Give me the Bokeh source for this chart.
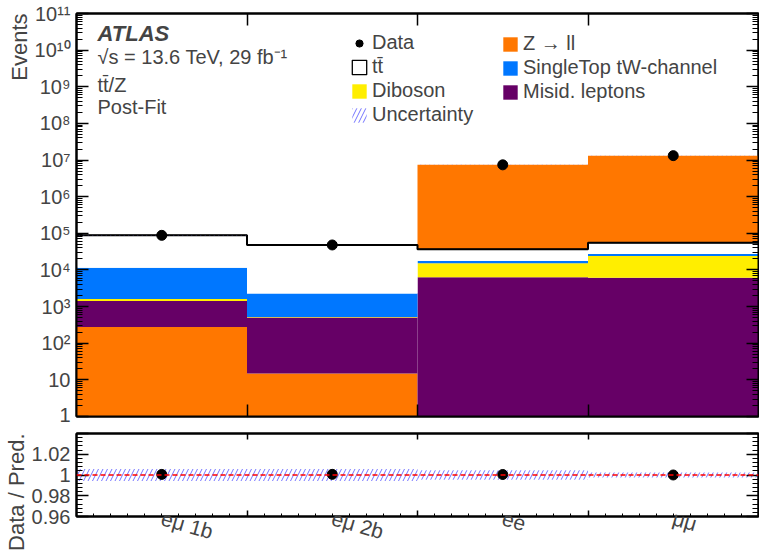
import math
from bokeh.plotting import figure
from bokeh.layouts import column
from bokeh.models import (LinearAxis, LogAxis, FixedTicker, Label, Legend,
                          LegendItem, Span, ColumnDataSource, Title)
from bokeh.embed import file_html
from bokeh.resources import INLINE

# ---- yields per analysis region (post-fit) ----
regions = ["eμ 1b", "eμ 2b", "ee", "μμ"]
z_ll = [277, 15, 7.36e6, 1.314e7]
single_top = [9900, 1740, 2400, 3400]
misid = [1143, 485, 6300, 6150]
diboson = [180, 20, 8900, 17850]
ttbar = [76500, 45800, 18900, 28300]
data = [88050, 48090, 7.40e6, 1.3196e7]
rel_unc = [0.0057, 0.0057, 0.0045, 0.0023]

# stacking order (bottom to top) in the opposite-flavour and same-flavour regions
order_emu = ["Z → ll", "Misid. leptons", "Diboson", "SingleTop tW-channel", "tt̄"]
order_sf = ["Misid. leptons", "Diboson", "SingleTop tW-channel", "tt̄", "Z → ll"]
stack_order = [order_emu, order_emu, order_sf, order_sf]

yields = {"Z → ll": z_ll, "SingleTop tW-channel": single_top,
          "Misid. leptons": misid, "Diboson": diboson, "tt̄": ttbar}
colors = {"Z → ll": "#ff7700", "SingleTop tW-channel": "#0077ff",
          "Misid. leptons": "#660066", "Diboson": "#ffee00", "tt̄": "white"}

FONT = "Liberation Sans"
HATCH = dict(hatch_pattern="/", hatch_color="#7373ff", hatch_scale=9, hatch_weight=1)
n = len(regions)
edges = list(range(n + 1))
centers = [i + 0.5 for i in range(n)]

# cumulative stack boundaries per bin
bottoms = {k: [0.0] * n for k in yields}
tops = {k: [0.0] * n for k in yields}
for i in range(n):
    acc = 1e-3
    for name in stack_order[i]:
        bottoms[name][i] = acc
        acc += yields[name][i]
        tops[name][i] = acc
total = [sum(yields[k][i] for k in yields) for i in range(n)]


def style_axis(ax, ticks=None, size=20):
    """Inward ticks; labels only when a size is wanted, otherwise blank."""
    ax.major_tick_in = 12
    ax.major_tick_out = 0
    ax.minor_tick_in = 6
    ax.minor_tick_out = 0
    ax.axis_line_width = 2
    ax.major_tick_line_width = 1.5
    ax.minor_tick_line_width = 1
    ax.major_label_text_font = FONT
    if ticks is None:
        ax.major_label_text_font_size = f"{size}px"
        ax.major_label_standoff = 6
    else:
        ax.major_label_overrides = {t: "" for t in ticks}
        ax.major_label_text_font_size = "1px"
        ax.major_label_standoff = 0


# ---------------- main panel ----------------
p = figure(width=759, height=425, x_range=(0, 4), y_range=(1, 1e11),
           y_axis_type="log", x_axis_location=None, y_axis_location=None,
           output_backend="svg", toolbar_location=None,
           min_border_left=76, min_border_right=1, min_border_top=13,
           min_border_bottom=9)
p.grid.visible = False
p.outline_line_color = "black"
p.outline_line_width = 2

renderers = {}
for name in ["Z → ll", "Misid. leptons", "Diboson", "SingleTop tW-channel", "tt̄"]:
    src = ColumnDataSource(dict(left=edges[:-1], right=edges[1:],
                                bottom=bottoms[name], top=tops[name]))
    renderers[name] = p.quad(left="left", right="right", bottom="bottom", top="top",
                             source=src, fill_color=colors[name], line_color=None)

# black outline along the top of the tt̄ histogram
tt_top = tops["tt̄"]
p.step(x=edges, y=tt_top + [tt_top[-1]], mode="after", line_color="black", line_width=2)
tt_edge = p.quad(left=edges[:-1], right=edges[1:], bottom=tt_top, top=tt_top,
                 fill_color="white", line_color="black", line_width=1.3)

unc_r = p.quad(left=edges[:-1], right=edges[1:],
               bottom=[t * (1 - u) for t, u in zip(total, rel_unc)],
               top=[t * (1 + u) for t, u in zip(total, rel_unc)],
               fill_color=None, line_color=None, **HATCH)

p.segment(x0=centers, x1=centers, y0=[d - math.sqrt(d) for d in data],
          y1=[d + math.sqrt(d) for d in data], line_color="black", line_width=1.5)
data_r = p.scatter(x=centers, y=data, size=10, color="black")

# axes with inward ticks on all four sides
major_y = [10 ** k for k in range(0, 12)]
minor_y = [m * 10 ** k for k in range(0, 11) for m in range(2, 10)]
sup = str.maketrans("0123456789", "⁰¹²³⁴⁵⁶⁷⁸⁹")
y_labels = {v: ("1" if k == 0 else "10" if k == 1 else "10" + str(k).translate(sup))
            for k, v in enumerate(major_y)}

ax = LogAxis(ticker=FixedTicker(ticks=major_y, minor_ticks=minor_y),
             major_label_overrides=y_labels)
style_axis(ax)
p.add_layout(ax, "left")
ax = LogAxis(ticker=FixedTicker(ticks=major_y, minor_ticks=minor_y))
style_axis(ax, major_y)
p.add_layout(ax, "right")
for side in ["below", "above"]:
    ax = LinearAxis(ticker=FixedTicker(ticks=edges[1:-1], minor_ticks=[]))
    style_axis(ax, edges[1:-1])
    p.add_layout(ax, side)

p.add_layout(Title(text="Events", align="right", standoff=0, text_font=FONT,
                   text_font_size="22px", text_font_style="normal"), "left")

p.add_layout(Label(x=21, y=371, x_units="screen", y_units="screen", text="ATLAS",
                   text_font=FONT, text_font_size="22px", text_font_style="bold italic"))
p.add_layout(Label(x=21, y=349, x_units="screen", y_units="screen",
                   text="√s = 13.6 TeV, 29 fb⁻¹", text_font=FONT, text_font_size="20px"))
p.add_layout(Label(x=21, y=321, x_units="screen", y_units="screen",
                   text="tt̄/Z", text_font=FONT, text_font_size="20px"))
p.add_layout(Label(x=21, y=299, x_units="screen", y_units="screen",
                   text="Post-Fit", text_font=FONT, text_font_size="20px"))

legend_style = dict(border_line_color=None, background_fill_alpha=0, padding=0,
                    margin=0, spacing=1, label_text_font=FONT,
                    label_text_font_size="20px", glyph_width=18, glyph_height=18,
                    label_standoff=4)
leg1 = Legend(items=[LegendItem(label="Data", renderers=[data_r]),
                     LegendItem(label="tt̄", renderers=[tt_edge]),
                     LegendItem(label="Diboson", renderers=[renderers["Diboson"]]),
                     LegendItem(label="Uncertainty", renderers=[unc_r])],
              location=(274, 290), **legend_style)
leg2 = Legend(items=[LegendItem(label="Z → ll", renderers=[renderers["Z → ll"]]),
                     LegendItem(label="SingleTop tW-channel",
                                renderers=[renderers["SingleTop tW-channel"]]),
                     LegendItem(label="Misid. leptons",
                                renderers=[renderers["Misid. leptons"]])],
              location=(425, 313), **legend_style)
p.add_layout(leg1)
p.add_layout(leg2)

# ---------------- ratio panel ----------------
r = figure(width=759, height=132, x_range=p.x_range, y_range=(0.96, 1.04),
           x_axis_location=None, y_axis_location=None,
           output_backend="svg", toolbar_location=None,
           min_border_left=76, min_border_right=1, min_border_top=8,
           min_border_bottom=39)
r.grid.visible = False
r.outline_line_color = "black"
r.outline_line_width = 2

r.quad(left=edges[:-1], right=edges[1:], bottom=[1 - u for u in rel_unc],
       top=[1 + u for u in rel_unc], fill_color=None, line_color=None, **HATCH)
r.add_layout(Span(location=1.0, dimension="width", line_color="red",
                  line_dash="5 3", line_width=1.5))
ratio = [d / t for d, t in zip(data, total)]
r.scatter(x=centers, y=ratio, size=10, color="black")

ratio_ticks = [0.96, 0.98, 1.0, 1.02, 1.04]
ratio_minor = [0.96 + 0.004 * i for i in range(21)]
ratio_labels = {0.96: "0.96", 0.98: "0.98", 1.0: "1", 1.02: "1.02", 1.04: ""}
ax = LinearAxis(ticker=FixedTicker(ticks=ratio_ticks, minor_ticks=ratio_minor),
                major_label_overrides=ratio_labels)
style_axis(ax)
r.add_layout(ax, "left")
ax = LinearAxis(ticker=FixedTicker(ticks=ratio_ticks, minor_ticks=ratio_minor))
style_axis(ax, ratio_ticks)
r.add_layout(ax, "right")

x_minor = [i / 10 for i in range(41)]
ax = LinearAxis(ticker=FixedTicker(ticks=edges[1:-1], minor_ticks=x_minor))
style_axis(ax, edges[1:-1])
ax.major_tick_in = 6
ax.minor_tick_in = 3
r.add_layout(ax, "below")
ax = LinearAxis(ticker=FixedTicker(ticks=edges[1:-1], minor_ticks=[]))
style_axis(ax, edges[1:-1])
ax.major_tick_in = 6
r.add_layout(ax, "above")

# region names under the ratio panel
lab_ax = LinearAxis(ticker=FixedTicker(ticks=centers, minor_ticks=[]),
                    major_label_overrides=dict(zip(centers, regions)),
                    major_label_orientation=-0.28, major_tick_in=0, major_tick_out=0,
                    axis_line_color=None, major_label_standoff=1,
                    major_label_text_font=FONT, major_label_text_font_size="21px")
r.add_layout(lab_ax, "below")

r.add_layout(Title(text="Data / Pred.", align="right", standoff=0, text_font=FONT,
                   text_font_size="22px", text_font_style="normal"), "left")

layout = column(p, r)
open("out.html", "w").write(file_html(layout, INLINE))
